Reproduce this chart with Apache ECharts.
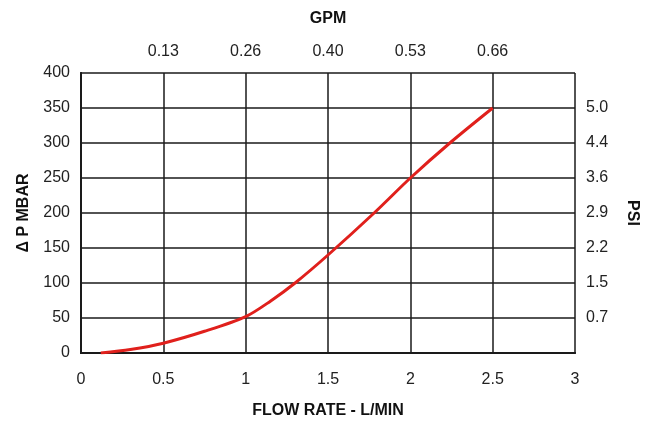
<!DOCTYPE html>
<html>
<head>
<meta charset="utf-8">
<script src="https://cdn.jsdelivr.net/npm/echarts@6/dist/echarts.min.js"></script>
<style>html,body{margin:0;padding:0;background:#fff;}#c{width:660px;height:424px;}</style>
</head>
<body>
<div id="c"></div>
<script>
var flowLpm = [0.12, 0.3, 0.5, 0.75, 1.0, 1.15, 1.3, 1.5, 1.78, 2.0, 2.24, 2.5];
var dpMbar  = [0, 5, 14, 31, 52, 74, 100, 140, 200, 250, 300, 350];
var gpmLabels = ['', '0.13', '0.26', '0.40', '0.53', '0.66', ''];
var psiLabels = ['', '0.7', '1.5', '2.2', '2.9', '3.6', '4.4', '5.0', ''];

var FONT = '"Liberation Sans Narrow", "Liberation Sans", Arial, sans-serif';
var grid = '#1a1a1a';
var chart = echarts.init(document.getElementById('c'), null, {renderer: 'canvas'});
var pts = flowLpm.map(function (x, i) { return [x, dpMbar[i]]; });
var labelStyle = {color: '#222', fontFamily: FONT, fontSize: 16};
var nameStyle = {color: '#111', fontFamily: FONT, fontSize: 16, fontWeight: 'bold'};
chart.setOption({
  backgroundColor: '#fff',
  animation: false,
  grid: {left: 81, right: 85, top: 73, bottom: 69},
  xAxis: [{
    type: 'value', position: 'bottom', min: 0, max: 3, interval: 0.5,
    name: 'FLOW RATE - L/MIN', nameLocation: 'middle', nameGap: 50, nameTextStyle: nameStyle,
    axisLine: {show: true, lineStyle: {color: grid, width: 2}},
    axisTick: {show: false},
    axisLabel: Object.assign({margin: 19}, labelStyle),
    splitLine: {show: true, lineStyle: {color: grid, width: 1.5}}
  }, {
    type: 'value', position: 'top', min: 0, max: 3, interval: 0.5,
    name: 'GPM', nameLocation: 'middle', nameGap: 46, nameTextStyle: nameStyle,
    axisLine: {show: true, lineStyle: {color: grid, width: 2}},
    axisTick: {show: false},
    axisLabel: Object.assign({margin: 13, formatter: function (v) { return gpmLabels[Math.round(v / 0.5)] || ''; }}, labelStyle),
    splitLine: {show: false}
  }],
  yAxis: [{
    type: 'value', position: 'left', min: 0, max: 400, interval: 50,
    name: '\u0394 P MBAR', nameLocation: 'middle', nameGap: 49, nameRotate: 90, nameTextStyle: nameStyle,
    axisLine: {show: true, lineStyle: {color: grid, width: 2}},
    axisTick: {show: false},
    axisLabel: Object.assign({margin: 11}, labelStyle),
    splitLine: {show: true, lineStyle: {color: grid, width: 1.5}}
  }, {
    type: 'value', position: 'right', min: 0, max: 400, interval: 50,
    name: 'PSI', nameLocation: 'middle', nameGap: 49, nameRotate: -90, nameTextStyle: nameStyle,
    axisLine: {show: true, lineStyle: {color: grid, width: 2}},
    axisTick: {show: false},
    axisLabel: Object.assign({margin: 11, formatter: function (v) { return psiLabels[Math.round(v / 50)] || ''; }}, labelStyle),
    splitLine: {show: false}
  }],
  series: [{
    type: 'line', xAxisIndex: 0, yAxisIndex: 0, data: pts, smooth: 0.3,
    showSymbol: false, symbol: 'none',
    lineStyle: {color: '#e0201c', width: 3}
  }]
});
</script>
</body>
</html>
